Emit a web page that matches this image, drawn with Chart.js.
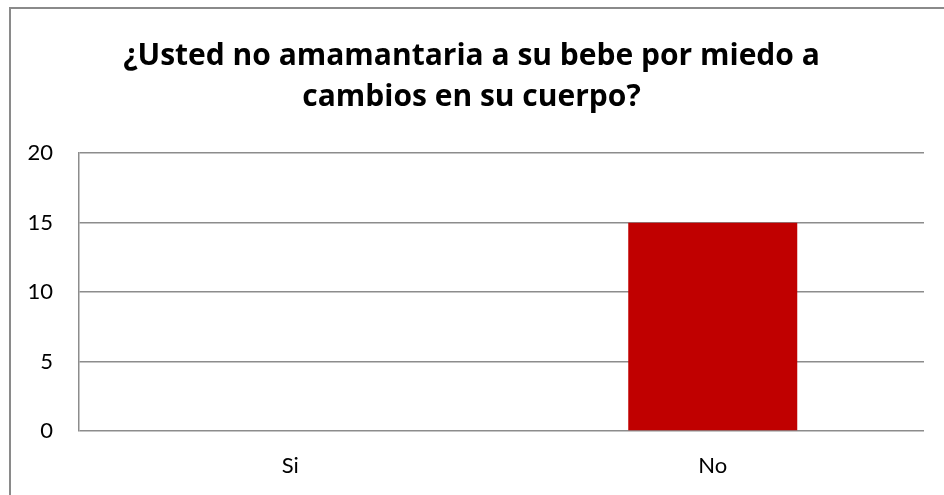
<!DOCTYPE html>
<html>
<head>
<meta charset="utf-8">
<script src="https://cdn.jsdelivr.net/npm/chart.js@4"></script>
<style>
  body { margin: 0; background: #fff; }
  #wrap { position: relative; width: 944px; height: 495px; overflow: hidden; }
  #frame { position: absolute; left: 9px; top: 7px; width: 1000px; height: 600px; border: 2px solid #8a8a8a; }
  canvas { position: absolute; left: 0; top: 0; }
</style>
</head>
<body>
<div id="wrap">
  <div id="frame"></div>
  <canvas id="barChart" width="944" height="495"></canvas>
</div>
<script>
const categories = ['Si', 'No'];
const counts = [0, 15];
const yTicks = [0, 5, 10, 15, 20];
const titleLines = ['¿Usted no amamantaria a su bebe por miedo a', 'cambios en su cuerpo?'];

window.onload = function () {
    const ctx = document.getElementById('barChart').getContext('2d');

    // Bar chart
    new Chart(ctx, {
        type: 'bar',
        data: {
            labels: categories,
            datasets: [{
                data: counts,
                backgroundColor: '#C00000',
                borderWidth: 0,
                categoryPercentage: 1,
                barPercentage: 0.4
            }]
        },
        options: {
            responsive: false,
            animation: false,
            layout: { padding: { left: 19, right: 20, top: 0, bottom: 0 } },
            plugins: {
                legend: { display: false },
                tooltip: { enabled: false },
                title: {
                    display: true,
                    text: titleLines,
                    color: '#000',
                    font: { family: 'Open Sans', size: 30, weight: 'bold', lineHeight: 1.37 },
                    padding: { top: 36, bottom: 35 }
                }
            },
            scales: {
                x: {
                    grid: { display: false, drawTicks: false },
                    border: { display: false },
                    ticks: { color: '#000', font: { family: 'Lato', size: 22 }, padding: 22 },
                    afterFit: (scale) => { scale.height = 64; }
                },
                y: {
                    min: 0,
                    max: 20,
                    afterBuildTicks: (scale) => { scale.ticks = yTicks.map(v => ({ value: v })); },
                    grid: { color: '#8c8c8c', lineWidth: 1.5, drawTicks: false },
                    border: { display: true, color: '#8c8c8c', width: 1.5 },
                    ticks: { color: '#000', font: { family: 'Lato', size: 22 }, padding: 26 },
                    afterFit: (scale) => { scale.width = 60; }
                }
            }
        }
    });
};
</script>
</body>
</html>
